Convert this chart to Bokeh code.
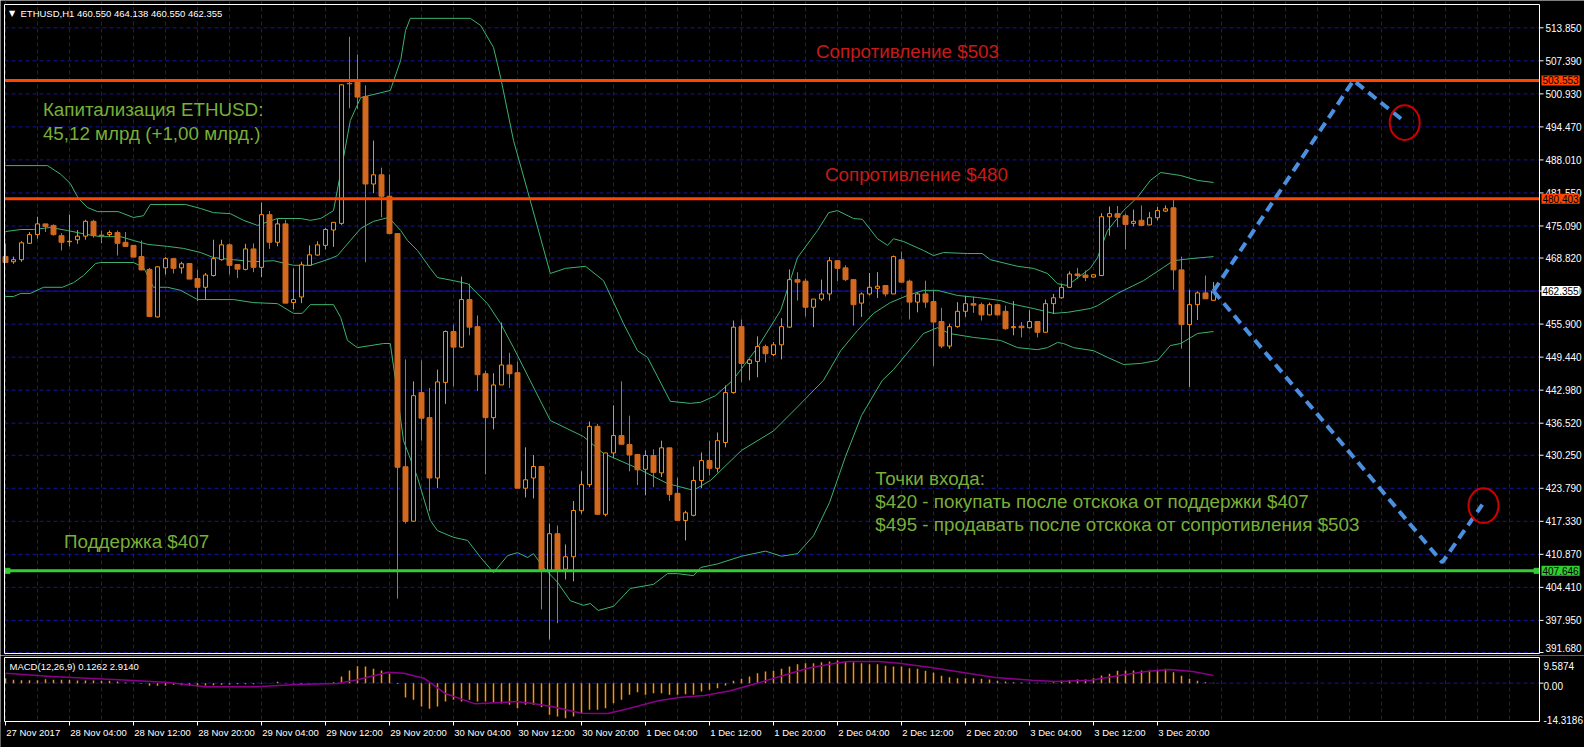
from bokeh.plotting import figure
from bokeh.models import Range1d, FixedTicker, Label, ColumnDataSource, Grid
from bokeh.layouts import column
from bokeh.embed import file_html
from bokeh.resources import INLINE
from bokeh.core.properties import value

# ---------------- DATA ----------------
opens = [469.1,468.1,468.5,471.7,473.4,475.5,475.2,473.2,472.0,472.4,473.1,476.0,473.3,473.4,473.8,471.9,471.3,469.1,466.6,457.3,
         466.9,468.7,466.9,467.75,464.8,463.1,465.4,468.5,471.4,467.55,466.6,470.6,467.0,477.3,471.9,475.5,460.1,461.2,467.4,469.4,
         471.3,474.3,475.6,503.0,503.35,500.4,483.3,485.1,480.9,473.6,428.0,417.35,442.5,437.6,425.8,444.5,454.45,451.4,460.7,455.4,
         446.2,437.6,444.0,447.9,446.4,423.8,425.8,428.05,407.7,414.9,407.96,410.4,419.4,424.5,435.9,418.7,430.7,434.1,432.35,430.4,
         427.5,430.2,426.8,431.7,422.8,417.5,418.5,425.3,429.2,427.7,432.75,442.5,455.4,448.2,448.6,451.5,449.95,451.85,455.3,464.6,
         464.3,459.2,460.8,461.8,468.3,466.9,464.6,460.0,461.8,462.9,463.45,461.8,468.5,464.3,460.2,461.8,460.3,456.4,451.6,455.4,
         458.4,459.9,459.7,457.7,459.7,458.4,455.2,455.5,455.2,456.4,454.3,459.9,461.05,463.1,465.7,465.5,465.1,465.4,476.9,477.5,
         477.1,475.6,476.2,475.3,476.7,478.0,478.65,466.5,455.8,459.7,462.0,460.55]
highs = [471.7,469.1,472.1,473.9,476.9,475.5,475.4,473.7,477.3,474.3,476.3,476.3,474.2,474.2,474.2,473.9,471.3,472.25,466.9,467.2,
         469.0,468.7,468.1,467.75,466.5,465.9,472.4,472.4,471.7,467.55,471.6,471.7,479.7,478.0,476.5,476.3,466.8,468.1,471.3,472.1,
         474.7,475.8,502.8,512.1,508.6,502.6,491.8,486.5,485.2,473.6,449.0,444.7,448.8,443.4,447.0,454.65,455.8,465.2,463.8,457.6,
         446.8,446.3,456.2,450.3,448.6,431.8,430.3,428.05,416.9,416.5,412.8,421.3,427.1,436.85,436.4,430.7,440.0,444.7,438.0,430.4,
         431.2,431.4,433.1,431.7,425.9,419.4,428.05,430.8,433.1,434.7,443.9,456.6,456.8,449.1,453.5,451.9,452.4,457.05,466.6,466.05,
         464.8,460.8,464.6,469.0,468.3,467.4,464.6,462.1,465.9,466.05,463.45,469.3,470.1,464.6,462.1,464.4,462.5,459.1,456.0,460.2,
         461.35,461.3,460.1,460.1,459.7,459.5,460.4,456.3,458.6,456.4,460.7,461.8,463.8,466.2,466.9,466.4,465.6,477.6,478.9,479.0,
         477.5,478.3,479.1,477.8,478.8,479.1,480.3,469.1,462.6,462.3,465.4,464.14]
lows = [467.9,467.7,468.1,471.6,472.6,473.9,473.2,470.3,471.1,471.6,472.4,472.8,471.7,473.0,469.3,471.1,469.0,466.4,457.3,457.2,
        465.6,465.8,465.8,464.7,460.4,460.8,465.2,468.3,465.6,464.9,466.4,466.05,465.1,470.6,471.1,460.0,458.8,460.0,467.3,469.3,
        470.5,471.0,475.3,498.1,498.0,468.0,481.5,476.8,473.6,402.2,416.9,417.3,433.1,419.3,423.8,440.3,443.7,451.2,453.7,442.8,
        426.5,435.3,444.0,443.4,423.8,422.0,421.8,400.1,394.2,397.4,405.95,405.6,418.8,424.0,418.7,418.3,429.7,432.4,427.1,424.4,
        422.4,424.0,426.0,421.3,417.5,413.6,418.3,423.8,426.3,426.9,431.8,442.3,444.5,444.9,445.5,448.4,449.6,449.0,455.2,460.5,
        457.4,455.3,460.4,460.5,464.3,464.3,455.6,457.3,461.5,461.0,461.3,461.8,464.1,456.8,458.2,459.1,447.7,451.2,451.1,455.2,
        457.3,458.1,456.6,457.6,457.6,454.8,453.7,453.3,455.0,453.3,454.3,457.9,460.85,463.0,464.75,464.3,465.0,465.4,473.2,474.85,
        470.5,475.0,475.05,475.2,476.2,477.8,462.6,451.1,443.6,456.7,460.85,460.55]
closes = [467.95,468.5,471.8,473.4,475.5,475.0,473.4,471.9,472.1,473.1,476.0,473.2,473.2,473.8,471.7,471.1,469.0,466.5,457.4,467.1,
          468.7,466.8,467.7,464.7,463.1,465.5,468.7,471.4,467.4,466.65,470.6,467.0,477.3,471.9,475.5,460.0,460.7,467.5,469.45,471.4,
          474.4,475.8,502.7,502.9,500.3,483.3,485.1,480.9,473.6,427.9,417.3,441.9,437.5,425.8,444.6,454.45,451.4,460.7,455.3,446.0,
          437.6,444.0,447.9,446.2,423.8,425.45,428.05,407.7,414.9,407.7,410.4,419.44,424.5,435.9,418.7,430.7,434.1,432.4,430.3,427.4,
          430.2,426.9,431.7,422.6,417.5,419.0,425.3,429.2,427.7,433.1,442.5,455.3,448.2,448.9,451.5,450.1,451.85,455.4,464.6,464.1,
          459.2,460.8,461.8,468.3,466.8,464.6,459.7,461.8,463.1,463.3,461.8,469.1,464.1,460.2,461.8,460.2,456.3,451.6,455.4,458.4,
          459.9,459.6,457.7,459.7,457.7,455.0,455.4,455.2,456.4,454.3,459.9,461.05,463.1,465.7,465.4,465.0,465.55,476.9,477.5,476.8,
          475.4,476.0,475.2,476.7,478.1,478.45,466.5,455.8,459.7,462.0,460.85,462.355]

bb_upper_x = [0,5.25,6.9,8.1,9.1,10.25,11.5,14.1,16,17.25,18.1,22.5,24.4,26,28.1,29.75,31.5,34,36.9,38.1,
              39.4,41,42.25,43.1,44.4,48.1,49.4,50,50.6,58.1,59.4,61,61.9,63.5,65.25,68.1,70,72.5,74.75,77.25,
              79,80.25,83.1,85.6,86.9,88.75,90.9,94,96.9,99,101.5,102.9,104,106,107.1,109,110.25,111,112.25,114.75,
              116,117.25,120.25,122.1,123.1,126.5,128.5,130.25,131.5,132.75,135.6,136.5,137.75,139.75,141.5,143.1,144.4,146.9,149,151]
bb_upper = [486.9,486.9,485.2,483.4,480.5,478.7,477.9,477.9,476.75,477.1,479.3,479.3,478.5,477.7,477.5,476.2,475.2,476.55,476.55,476.2,
            476.55,478.1,488.5,495.7,500.2,501.6,507.5,513.3,515.7,515.7,514.3,510.0,504.1,491.8,482.0,465.8,466.8,467.2,464.4,456.0,
            450.7,449.4,440.8,440.4,440.6,441.9,444.9,451.3,458.6,468.9,474.2,477.7,478.1,476.55,476.4,472.6,471.3,472.6,472.05,470.3,
            469.3,469.9,469.7,469.7,468.5,467.2,466.8,465.8,463.8,463.45,466.8,468.9,474.2,478.1,480.7,484.0,485.55,484.96,484.0,483.6]
bb_mid_x = [0,1.9,3.5,5.6,7.75,10.25,11.9,14.4,16,17.75,20.25,22.25,24.4,26,28.5,31,33.5,36,38.1,40.6,
            41.5,43.1,44.4,46,47.9,49.4,50.25,51.5,53.1,54,56,57.75,60.25,61.9,63.5,68.1,72.25,74.75,79,82.75,
            86,88.1,92,96,99,102.25,104.4,106.5,108.5,110.6,112.75,114.75,116.5,119,121.5,124.4,125.6,128.5,131,132.75,
            135.6,136.5,139,142.25,144.75,146,148.1,151]
bb_mid = [474.0,474.4,474.4,474.8,474.2,473.4,473.0,473.0,472.25,471.5,471.1,470.7,469.9,468.9,468.5,468.1,468.3,467.4,467.4,468.7,
          469.3,472.25,474.6,476.0,476.75,474.2,472.25,470.3,466.8,465.0,464.4,463.8,459.9,456.0,451.3,437.05,433.9,430.6,427.7,424.7,
          423.4,425.3,431.2,435.0,439.7,444.9,450.7,454.65,458.0,460.1,461.5,462.5,462.5,461.5,461.1,460.5,459.9,458.95,458.0,458.2,
          458.95,459.5,461.9,464.4,467.0,468.3,468.7,469.1]
bb_low_x = [0,1,1.9,3.1,4.75,7.1,8.5,9.75,11.25,11.9,16,17.25,18.5,20.25,21.9,24,28.5,31,34,36,
            37.1,38.1,41,41.9,42.75,44,47.25,48.1,48.75,49.75,51.5,53.1,54,56,57.75,59.4,61,62.75,64,65.25,
            66,67.25,69,70.6,72.25,73.1,74.1,76,78.1,81,82.75,84,86,86.9,89,92,95,97,99,101,
            103,105,107,109.6,111,114.75,116.5,118,121,124.4,126.5,129,130.25,131.5,132.25,133.5,136,137.75,139.75,141.9,
            144,145.6,146.9,149,151]
bb_low = [461.3,461.3,461.9,461.9,463.1,463.1,464.0,465.4,467.75,467.95,467.95,467.0,463.1,463.1,462.5,460.7,460.7,460.1,459.9,458.0,
          458.0,459.7,459.7,457.2,452.7,451.3,452.1,452.1,444.9,433.1,425.9,417.5,415.5,414.2,413.6,410.25,407.3,410.6,411.2,410.25,
          411.0,408.3,405.4,401.8,400.9,401.25,399.9,400.7,404.2,405.0,407.1,407.1,406.7,408.3,409.0,410.5,411.5,410.5,411.0,414.5,
          421.0,430.0,438.0,444.9,447.0,454.06,455.2,454.06,453.3,452.7,451.3,450.9,451.3,452.3,452.1,451.3,450.7,449.4,448.0,448.2,
          448.8,451.7,452.1,454.06,454.45]

macd_hist = [1.87,1.25,1.12,1.12,1.12,1.49,1.25,1.25,1.25,1.0,
             1.0,1.0,0.87,0.87,0.62,0.25,0.12,-0.25,-1.0,-1.0,
             -1.0,-0.62,-0.75,-1.0,-1.25,-0.87,-0.75,-0.62,-0.5,-0.37,
             -0.37,-0.37,-0.25,-0.12,0.5,-0.12,-0.12,-0.37,-0.25,-0.12,
             0.05,0.37,2.49,4.73,6.35,6.23,5.35,4.73,3.49,-0.3,
             -5.35,-6.23,-8.72,-9.59,-8.72,-6.85,-6.23,-6.85,-6.23,-6.85,
             -6.85,-7.1,-7.6,-8.1,-9.34,-8.1,-8.1,-8.97,-11.8,-12.45,
             -13.07,-12.45,-11.2,-9.96,-9.96,-9.34,-7.47,-6.23,-4.36,-3.36,
             -4.36,-3.74,-3.74,-4.36,-4.36,-4.11,-4.36,-3.11,-2.49,-1.87,
             -0.87,0.87,1.62,2.49,3.74,4.36,4.61,5.35,6.23,7.1,
             7.47,7.47,7.85,8.1,8.47,8.1,7.85,7.47,7.1,7.1,
             6.48,6.23,6.23,5.6,5.35,4.6,3.98,2.74,2.24,1.87,
             1.87,1.87,1.62,1.37,0.87,0.62,0.37,0.25,0.12,0.12,
             0.12,0.37,0.87,1.12,1.37,1.37,1.87,2.86,3.49,4.6,
             4.73,4.73,4.73,4.73,4.98,5.35,4.11,2.74,1.62,0.87,
             0.37,0.1262]
signal_x = [0,5.75,16,20.4,25,31.3,36.4,41.5,44,47.8,49.8,52.3,54.9,58.7,61.9,63.8,65.7,68.3,72,75.3,
            77.8,81.6,84.2,87.4,90.6,94.4,97,100.3,103.7,105.4,109.1,111.7,115.7,119.7,123.7,128.3,131.2,135.7,139.2,142.6,
            145.5,148.4,151]
signal = [3.74,2.49,1.0,0.25,-1.37,-1.37,-0.5,-0.12,1.25,4.11,3.74,1.87,-3.74,-7.72,-7.22,-6.85,-7.47,-8.72,-11.2,-11.33,
          -9.59,-6.6,-5.35,-4.6,-2.86,0.37,2.7,5.6,7.47,8.1,8.1,7.47,5.85,3.98,2.12,1.12,0.62,1.12,2.86,4.36,
          5.1,4.36,2.914]

time_tick_idx = [0,8,16,24,32,40,48,56,64,72,80,88,96,104,112,120,128,136,144]
time_labels = ["27 Nov 2017","28 Nov 04:00","28 Nov 12:00","28 Nov 20:00","29 Nov 04:00","29 Nov 12:00","29 Nov 20:00",
               "30 Nov 04:00","30 Nov 12:00","30 Nov 20:00","1 Dec 04:00","1 Dec 12:00","1 Dec 20:00","2 Dec 04:00",
               "2 Dec 12:00","2 Dec 20:00","3 Dec 04:00","3 Dec 12:00","3 Dec 20:00"]
price_ticks = [391.68,397.95,404.41,410.87,417.33,423.79,430.25,436.52,442.98,449.44,455.90,462.36,468.82,475.09,
               481.55,488.01,494.47,500.93,507.39,513.85]
resistance_levels = [503.553, 480.403]
support_level = 407.646
last_price = 462.355
macd_top, macd_bottom = 9.5874, -14.3186
macd_labels = ["9.5874", "0.00", "-14.3186"]

proj_up_x = [151, 168.5, 174.8]
proj_up_y = [462.355, 503.553, 495.6]
proj_dn_x = [151, 179.6, 184.6]
proj_dn_y = [462.355, 409.3, 420.6]
circle_x = [174.9, 184.75]
circle_y = [495.3, 420.4]

# ---------------- GEOMETRY (pixels -> data helpers) ----------------
W, H_MAIN, H_MACD = 1584, 655, 92
PX_PER_BAR = 8.0
def xd(px):            # horizontal pixel -> bar index
    return (px - 5) / PX_PER_BAR
PPX = 5.113            # pixels per dollar
def yd(px):            # vertical pixel -> price
    return 513.85 - (px - 27.3) / PPX
MPX = 64 / (macd_top - macd_bottom)
def ym(px):            # vertical pixel (page) -> macd value
    return macd_top - (px - 657) / MPX

XS, XE = xd(0), xd(W)
AX = xd(1539)          # position of the price axis line
BULL = "#FF8C00"
BEAR = "#D2691E"
GRID = "#1414A0"
FONT = "Liberation Sans"
TXT_GREEN = "#79AE38"
TXT_RED = "#C81A1A"

def base_fig(h, y0, y1):
    f = figure(width=W, height=h, output_backend="svg", toolbar_location=None,
               x_range=Range1d(XS, XE), y_range=Range1d(y0, y1),
               x_axis_location=None, y_axis_location=None,
               background_fill_color="black", border_fill_color="black",
               min_border_left=0, min_border_top=0, min_border_bottom=0, min_border_right=0,
               outline_line_color=None)
    f.grid.visible = False
    return f

# ---------------- MAIN PANEL ----------------
p = base_fig(H_MAIN, yd(H_MAIN), yd(0))
p.add_layout(Grid(dimension=0, ticker=FixedTicker(ticks=list(range(0, 192, 4))),
                  grid_line_color=GRID, grid_line_dash="4 3", grid_line_width=1))
p.segment(x0=[xd(4)] * len(price_ticks), x1=[AX] * len(price_ticks), y0=price_ticks, y1=price_ticks,
          line_color=GRID, line_dash="4 3", line_width=1)
p.segment(x0=[xd(4)], x1=[AX], y0=[last_price], y1=[last_price], line_color="#1010B0", line_width=1)

# Bollinger bands
for bx, by in ((bb_upper_x, bb_upper), (bb_mid_x, bb_mid), (bb_low_x, bb_low)):
    p.line(bx, by, line_color="#3CB371", line_width=1)

# candles
n = len(closes)
idx = list(range(n))
bull = [i for i in idx if closes[i] >= opens[i]]
bear = [i for i in idx if closes[i] < opens[i]]
def src(sel):
    return ColumnDataSource(dict(
        x=sel, h=[highs[i] for i in sel], l=[lows[i] for i in sel],
        top=[max(opens[i], closes[i]) for i in sel], bot=[min(opens[i], closes[i]) for i in sel]))
sb, sr = src(bull), src(bear)
p.segment(x0="x", y0="l", x1="x", y1="h", source=sb, line_color=BULL, line_width=1)
p.segment(x0="x", y0="l", x1="x", y1="h", source=sr, line_color=BEAR, line_width=1)
p.vbar(x="x", top="top", bottom="bot", width=0.5, source=sb, fill_color="black", line_color=BULL, line_width=1)
p.vbar(x="x", top="top", bottom="bot", width=0.62, source=sr, fill_color=BEAR, line_color=BEAR, line_width=1)

# horizontal levels
p.segment(x0=[xd(4)] * 2, x1=[AX] * 2, y0=resistance_levels, y1=resistance_levels, line_color="#FF4500", line_width=3)
p.segment(x0=[xd(4)], x1=[AX], y0=[support_level], y1=[support_level], line_color="#32CD32", line_width=3)
p.scatter([xd(7), xd(1536)], [support_level, support_level], marker="square", size=5, color="#32CD32")

# projections
p.line(proj_up_x, proj_up_y, line_color="#4A8FE0", line_width=4, line_dash="10 6")
p.line(proj_dn_x, proj_dn_y, line_color="#4A8FE0", line_width=4, line_dash="10 6")
p.ellipse(x=circle_x, y=circle_y, width=3.75, height=6.8, fill_color=None, line_color="#CC0000", line_width=2)

# frame borders and right price axis
p.segment(x0=[xd(4), xd(4), xd(4), AX], x1=[AX, AX, xd(4), AX],
          y0=[yd(4), yd(653), yd(4), yd(4)], y1=[yd(4), yd(653), yd(653), yd(653)],
          line_color="white", line_width=1)
p.segment(x0=[AX] * len(price_ticks), x1=[xd(1543)] * len(price_ticks), y0=price_ticks, y1=price_ticks,
          line_color="white", line_width=1)
label_y = [max(t, yd(647)) for t in price_ticks]
p.text(x=[xd(1545)] * len(price_ticks), y=label_y, text=[f"{t:.3f}" for t in price_ticks],
       text_align="left", text_baseline="middle", text_font=value(FONT), text_font_size="10px", text_color="white")

for lv, bg in ((resistance_levels[0], "#FF4500"), (resistance_levels[1], "#FF4500"),
               (support_level, "#32CD32"), (last_price, "white")):
    p.add_layout(Label(x=xd(1541), y=lv, text=f"{lv:.3f}", text_align="left", text_baseline="middle",
                       text_font=FONT, text_font_size="10px", text_color="black",
                       background_fill_color=bg, padding=1))

# annotations
def txt(x, y, t, color, align="left", size="18.8px"):
    p.add_layout(Label(x=x, y=y, text=t, text_align=align, text_baseline="middle",
                       text_font=FONT, text_font_size=size, text_color=color))
txt(xd(907), yd(50.5), "Сопротивление $503", TXT_RED, "center")
txt(xd(916), yd(173.8), "Сопротивление $480", TXT_RED, "center")
txt(xd(42.4), yd(109.1), "Капитализация ETHUSD:", TXT_GREEN)
txt(xd(42.4), yd(133.3), "45,12 млрд (+1,00 млрд.)", TXT_GREEN)
txt(xd(63.6), yd(540.5), "Поддержка $407", TXT_GREEN)
txt(xd(874.8), yd(477.8), "Точки входа:", TXT_GREEN)
txt(xd(874.8), yd(501.0), "$420 - покупать после отскока от поддержки $407", TXT_GREEN)
txt(xd(874.8), yd(524.3), "$495 - продавать после отскока от сопротивления $503", TXT_GREEN)

p.add_layout(Label(x=xd(11.5), y=yd(13), text="▼", text_align="center", text_baseline="middle",
                   text_font="DejaVu Sans", text_font_size="8px", text_color="white"))
p.add_layout(Label(x=xd(20), y=yd(13), text="ETHUSD,H1  460.550 464.138 460.550 462.355",
                   text_baseline="middle", text_font=FONT, text_font_size="9.5px", text_color="white"))

# ---------------- MACD PANEL ----------------
m = base_fig(H_MACD, ym(747), ym(655))
m.x_range = p.x_range
m.add_layout(Grid(dimension=0, ticker=FixedTicker(ticks=list(range(0, 192, 4))),
                  grid_line_color=GRID, grid_line_dash="4 3", grid_line_width=1))
m.segment(x0=[xd(4)], x1=[AX], y0=[0.0], y1=[0.0], line_color=GRID, line_dash="4 3", line_width=1)
# mask the grid below the panel (time axis area) and right of the axis
m.quad(left=[XS], right=[XE], bottom=[ym(747)], top=[ym(721.5)], fill_color="black", line_color=None)
m.quad(left=[AX], right=[XE], bottom=[ym(747)], top=[ym(655)], fill_color="black", line_color=None)

m.segment(x0=idx, y0=[0.0] * n, x1=idx, y1=macd_hist, line_color="#FF9000", line_width=1.5)
m.line(signal_x, signal, line_color="#8B008B", line_width=1.5)

m.segment(x0=[xd(4), xd(4), xd(4), AX], x1=[AX, AX, xd(4), AX],
          y0=[macd_top, macd_bottom, macd_top, macd_top], y1=[macd_top, macd_bottom, macd_bottom, macd_bottom],
          line_color="white", line_width=1)
m.segment(x0=[AX], x1=[xd(1543)], y0=[0.0], y1=[0.0], line_color="white", line_width=1)
m.text(x=[xd(1543)] * 3, y=[ym(665), ym(685.5), ym(719)], text=macd_labels,
       text_align="left", text_baseline="middle", text_font=value(FONT), text_font_size="10px", text_color="white")
m.add_layout(Label(x=xd(9), y=ym(666), text="MACD(12,26,9) 0.1262 2.9140", text_baseline="middle",
                   text_font=FONT, text_font_size="9.5px", text_color="white"))
# time axis ticks and labels
m.segment(x0=time_tick_idx, x1=time_tick_idx, y0=[macd_bottom] * len(time_tick_idx), y1=[ym(725)] * len(time_tick_idx),
          line_color="white", line_width=1)
m.text(x=[t + 0.1 for t in time_tick_idx], y=[ym(732)] * len(time_tick_idx), text=time_labels,
       text_align="left", text_baseline="middle", text_font=value(FONT), text_font_size="9.5px", text_color="white")

layout = column(p, m, spacing=0)
open("out.html", "w").write(file_html(layout, INLINE))
